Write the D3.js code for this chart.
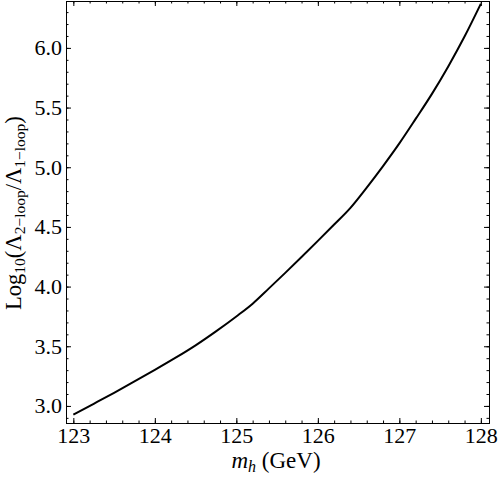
<!DOCTYPE html>
<meta charset="utf-8">
<style>
  body { margin: 0; background: #fff; }
  text { font-family: "Liberation Serif", "DejaVu Serif", serif; fill: #000; }
</style>
<script src="https://d3js.org/d3.v7.min.js"></script>
<div id="vis"></div>
<script>

// values
var mh = [123.0, 123.25, 123.5, 123.75, 124.0, 124.25, 124.5, 124.75, 125.0, 125.2,
          125.4, 125.6, 125.8, 126.0, 126.2, 126.4, 126.6, 126.8, 127.0, 127.2,
          127.4, 127.6, 127.8, 128.0]
var logRatio = [2.927, 3.018, 3.11, 3.205, 3.302, 3.402, 3.508, 3.625, 3.75, 3.857,
                3.985, 4.115, 4.248, 4.383, 4.52, 4.66, 4.83, 5.01, 5.2, 5.405,
                5.615, 5.845, 6.095, 6.37]
var xTicks = [123, 124, 125, 126, 127, 128]
var yTicks = [3.0, 3.5, 4.0, 4.5, 5.0, 5.5, 6.0]

var width = 500,
    height = 482,
    x0 = 66, x1 = 489, y0 = 1, y1 = 423

var x = d3.scaleLinear().domain([122.91, 128.1]).range([x0, x1])
var y = d3.scaleLinear().domain([2.857, 6.393]).range([y1, y0])

var svg = d3.select("#vis")
  .append("svg")
    .attr("width", width)
    .attr("height", height)

var xMinor = d3.range(122.8, 128.21, 0.2).filter(function(v){ return v >= 122.91 && v <= 128.1 })
var yMinor = d3.range(2.9, 6.41, 0.1).filter(function(v){ return v >= 2.857 && v <= 6.393 })

// bottom
var gb = svg.append("g").attr("transform", "translate(0," + y1 + ")")
gb.call(d3.axisBottom(x).tickValues(xMinor).tickSize(-2.5).tickFormat(""))
gb.append("g").call(d3.axisBottom(x).tickValues(xTicks).tickSize(-5).tickPadding(4)
    .tickFormat(d3.format("d")))
  .selectAll("text").attr("font-size", 22)
// top
var gt = svg.append("g").attr("transform", "translate(0," + y0 + ")")
gt.call(d3.axisTop(x).tickValues(xMinor).tickSize(-2.5).tickFormat(""))
gt.append("g").call(d3.axisTop(x).tickValues(xTicks).tickSize(-5).tickFormat(""))
// left
var gl = svg.append("g").attr("transform", "translate(" + x0 + ",0)")
gl.call(d3.axisLeft(y).tickValues(yMinor).tickSize(-2.5).tickFormat(""))
gl.append("g").call(d3.axisLeft(y).tickValues(yTicks).tickSize(-5).tickPadding(4)
    .tickFormat(d3.format(".1f")))
  .selectAll("text").attr("font-size", 22)
// right
var gr = svg.append("g").attr("transform", "translate(" + x1 + ",0)")
gr.call(d3.axisRight(y).tickValues(yMinor).tickSize(-2.5).tickFormat(""))
gr.append("g").call(d3.axisRight(y).tickValues(yTicks).tickSize(-5).tickFormat(""))

svg.selectAll(".domain").remove()
svg.selectAll(".tick line").attr("stroke", "#000")
svg.selectAll(".tick text").attr("font-family", "Liberation Serif").attr("fill", "#000")

svg.append("rect")
  .attr("x", x0 + 0.5).attr("y", y0 + 0.5)
  .attr("width", x1 - x0).attr("height", y1 - y0)
  .attr("fill", "none").attr("stroke", "#000").attr("stroke-width", 1)

var line = d3.line()
  .x(function(d){ return x(d[0]) })
  .y(function(d){ return y(d[1]) })
  .curve(d3.curveMonotoneX)

svg.append("path")
  .datum(d3.zip(mh, logRatio))
  .attr("d", line)
  .attr("fill", "none")
  .attr("stroke", "#000")
  .attr("stroke-width", 2)

// x label
var xl = svg.append("text")
  .attr("x", 276).attr("y", 468)
  .attr("text-anchor", "middle")
  .attr("font-size", 23)
xl.append("tspan").attr("font-style", "italic").text("m")
xl.append("tspan").attr("font-style", "italic").attr("font-size", 16).attr("dy", 4).text("h")
xl.append("tspan").attr("dy", -4).text(" (GeV)")

// y label
var yl = svg.append("text")
  .attr("transform", "translate(21,213) rotate(-90)")
  .attr("text-anchor", "middle")
  .attr("font-size", 22.5)
yl.append("tspan").text("Log")
yl.append("tspan").attr("font-size", 15.5).attr("dy", 4).text("10")
yl.append("tspan").attr("dy", -4).text("(Λ")
yl.append("tspan").attr("font-size", 15.5).attr("dy", 4).text("2\u2212loop")
yl.append("tspan").attr("dy", -4).text("/Λ")
yl.append("tspan").attr("font-size", 15.5).attr("dy", 4).text("1\u2212loop")
yl.append("tspan").attr("dy", -4).text(")")

</script>
